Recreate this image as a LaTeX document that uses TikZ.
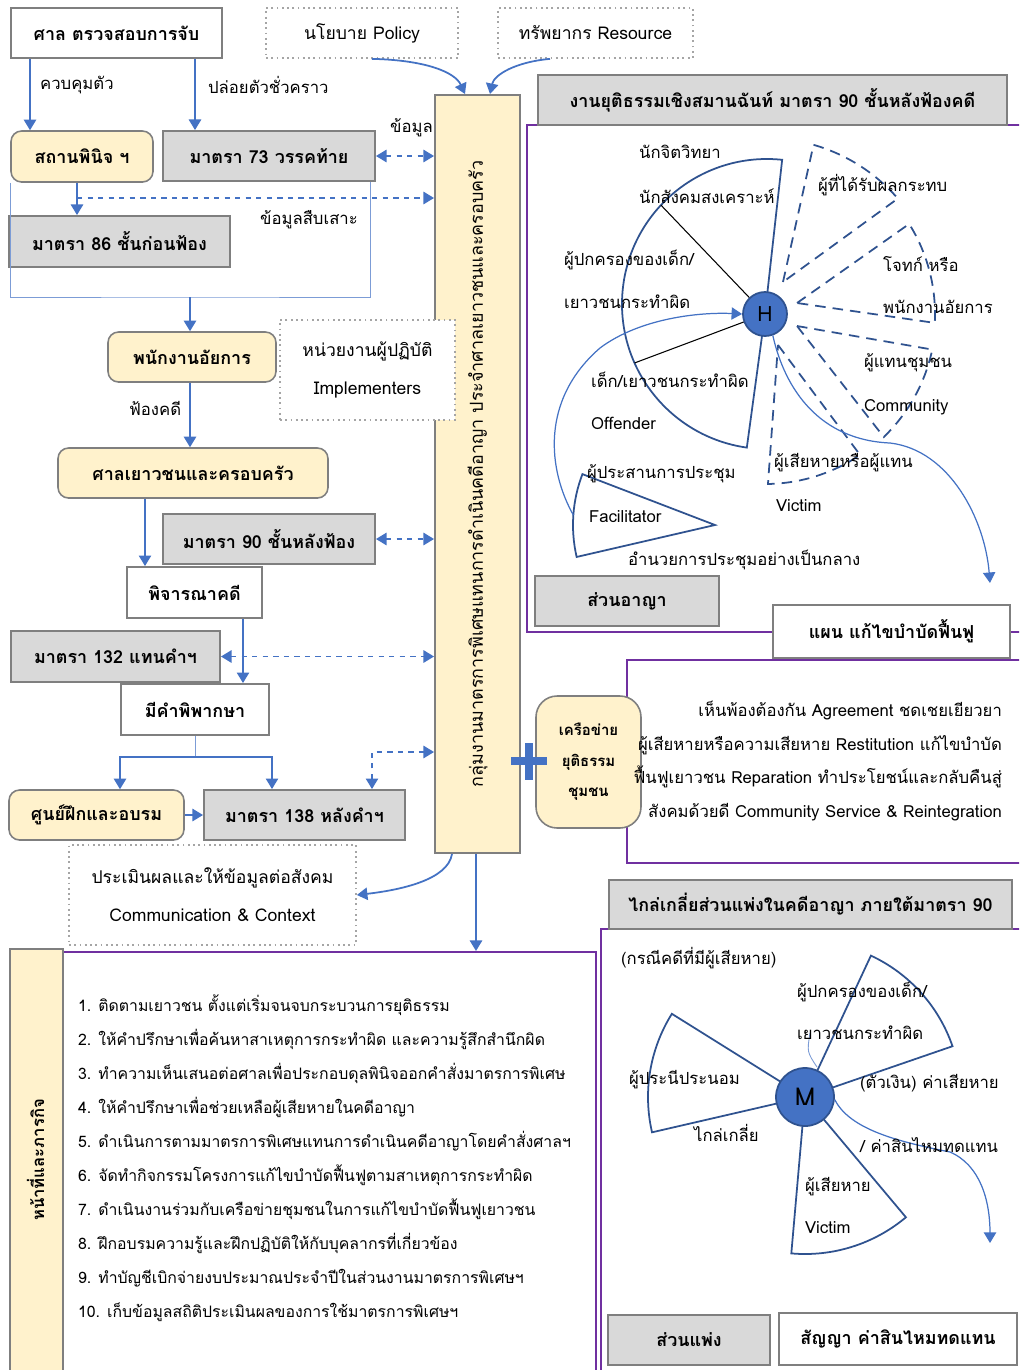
\documentclass[tikz,border=0pt]{standalone}
\usepackage{fontspec}
\setmainfont[Script=Thai]{Loma}
\usetikzlibrary{arrows.meta,calc}
\definecolor{bleu}{HTML}{4472C4}
\definecolor{bleufonce}{HTML}{2F528F}
\definecolor{gris}{HTML}{D9D9D9}
\definecolor{grisbord}{HTML}{7F7F7F}
\definecolor{jaune}{HTML}{FFF2CC}
\definecolor{purp}{HTML}{7030A0}
\definecolor{pointille}{HTML}{A5A5A5}
\tikzset{
  sz/.style 2 args = {minimum width=#1*0.02cm, minimum height=#2*0.02cm},
  txt/.style = {inner sep=1pt, align=center, font=\fontsize{9.5}{12}\selectfont},
  lbl/.style = {txt, anchor=west},% free label
  box_g/.style = {txt, rectangle, draw=grisbord, fill=gris, line width=1.1pt,
    font=\fontsize{10.2}{12}\selectfont\bfseries},% grey section box
  box_w/.style = {box_g, fill=white},% white box
  box_j/.style = {box_g, fill=jaune, rounded corners=6pt, line width=0.9pt},% yellow box
  box_d/.style = {txt, rectangle, draw=pointille, fill=white, dotted, line width=1pt,
    font=\fontsize{10}{21.5}\selectfont},% dotted box
  cadre/.style = {draw=purp, line width=1.1pt},% purple frame
  fl/.style = {-{Triangle[width=7pt,length=6pt]}, bleu, line width=1pt},% arrow
  fl_d/.style = {{Triangle[width=7pt,length=6pt]}-{Triangle[width=7pt,length=6pt]},
    bleu, line width=1pt, dashed},% dashed double arrow
  fil/.style = {bleu!70, line width=0.5pt},
  fan/.style = {draw=bleufonce, line width=1pt},
  fan_d/.style = {fan, dash pattern=on 6pt off 4pt},
  hub/.style = {circle, draw=bleufonce, fill=bleu, line width=1pt, inner sep=0pt,
    font=\fontsize{12}{14}\selectfont}
}
\begin{document}
\begin{tikzpicture}[x=0.02cm, y=0.02cm]
\clip (0,0) rectangle (1019,-1370);
\fill[white] (0,0) rectangle (1019,-1370);

% frames
\draw[cadre] (1030,-125) -- (527,-125) -- (527,-632) -- (1030,-632);
\draw[cadre] (1030,-660) -- (627,-660) -- (627,-863) -- (1030,-863);
\draw[cadre] (1030,-929) -- (601,-929) -- (601,-1380);
\node[cadre, sz={533}{440}, anchor=north west] (duty) at (62,-951) {};
\node[box_g, fill=jaune, sz={53}{440}, anchor=north west] (dutyside) at (9,-948) {};
\node[txt, rotate=90, font=\fontsize{9.5}{12}\selectfont\bfseries] at (35.5,-1160) {หน้าที่และภารกิจ};

% left column
\node[box_w, sz={211}{50}] (arrest) at (116.5,-33) {ศาล ตรวจสอบการจับ};
\node[box_d, sz={192}{50}] (policy) at (362,-33) {นโยบาย Policy};
\node[box_d, sz={195}{50}] (resource) at (595.5,-33) {ทรัพยากร Resource};
\node[box_j, sz={142}{51}] (observ) at (82,-156.5) {สถานพินิจ ฯ};
\node[box_g, sz={212}{50}] (s73) at (269,-156) {มาตรา 73 วรรคท้าย};
\node[box_g, sz={221}{51}] (s86) at (119.5,-241.5) {มาตรา 86 ชั้นก่อนฟ้อง};
\node[box_j, sz={168}{50}] (prosec) at (192,-357) {พนักงานอัยการ};
\node[box_j, sz={270}{50}] (court) at (193,-473) {ศาลเยาวชนและครอบครัว};
\node[box_g, sz={212}{50}] (s90) at (269,-539) {มาตรา 90 ชั้นหลังฟ้อง};
\node[box_w, sz={135}{51}] (trial) at (194.5,-592.5) {พิจารณาคดี};
\node[box_g, sz={209}{51}] (s132) at (115.5,-656.5) {มาตรา 132 แทนคำฯ};
\node[box_w, sz={148}{51}] (verdict) at (195,-709.5) {มีคำพิพากษา};
\node[box_j, sz={175}{50}] (training) at (96.5,-815) {ศูนย์ฝึกและอบรม};
\node[box_g, sz={201}{50}] (s138) at (304.5,-815) {มาตรา 138 หลังคำฯ};
\node[box_d, sz={287}{100}] (comm) at (212.5,-895) {ประเมินผลและให้ข้อมูลต่อสังคม\\Communication \& Context};
\node[box_g, fill=jaune, sz={85}{758}] (unit) at (477.5,-474) {};
\node[txt, rotate=90, font=\fontsize{10.2}{12}\selectfont] at (unit.center) {กลุ่มงานมาตรการพิเศษแทนการดำเนินคดีอาญา ประจำศาลเยาวชนและครอบครัว};
\node[box_d, sz={175}{100}] (impl) at (367.5,-370) {หน่วยงานผู้ปฏิบัติ\\Implementers};

\draw[fl] (arrest.south -| 30,0) -- (observ.north -| 30,0);
\node[lbl] at (38,-85) {ควบคุมตัว};
\draw[fl] (arrest.south -| 195,0) -- (s73.north -| 195,0);
\node[lbl] at (206,-85) {ปล่อยตัวชั่วคราว};
\draw[fl] (policy.south -| 372,0) .. controls (425,-60) and (455,-72) .. (unit.north -| 465,0);
\draw[fl] (resource.south -| 550,0) .. controls (515,-62) and (494,-75) .. (unit.north -| 490,0);
\draw[fl_d] (s73.east) -- (s73.east -| unit.west);
\node[lbl] at (388,-128) {ข้อมูล};
\draw[fl] (observ.south -| 77,0) -- (s86.north -| 77,0);
\coordinate (tap) at (77,-198);
\draw[fl, dashed] (tap) -- (tap -| unit.west);
\node[lbl] at (258,-220) {ข้อมูลสืบเสาะ};
\coordinate (gather) at (190,-297);
\draw[fil] (observ.south west) |- (gather) -| (s73.south -| 370,0);
\draw[fl] (gather) -- (prosec.north -| gather);
\draw[fl] (prosec.south -| 190,0) -- (court.north -| 190,0);
\node[lbl] at (127,-408) {ฟ้องคดี};
\draw[fl] (court.south -| 145,0) -- (trial.north -| 145,0);
\draw[fl_d] (s90.east) -- (s90.east -| unit.west);
\draw[fl] (trial.south -| 243,0) -- (verdict.north -| 243,0);
\draw[fl_d] (s132.east) -- (s132.east -| unit.west);
\draw[fil] (verdict.south) -- ++(0,-21) coordinate (split);
\draw[fl] (split) -| (training.north -| 120,0);
\draw[fl] (split) -| (s138.north -| 272,0);
\draw[fl] (training.east) -- (s138.west);
\draw[fl_d] (s138.north -| 372,0) |- (unit.west |- 0,-752);
\draw[fl] (unit.south -| 452,0) .. controls (448,-880) and (400,-890) .. (comm.east);
\draw[fl] (unit.south -| 476,0) -- (duty.north -| 476,0);

% restorative circle
\node[box_g, sz={469}{50}] (rjhead) at (772.5,-100) {งานยุติธรรมเชิงสมานฉันท์ มาตรา 90 ชั้นหลังฟ้องคดี};
\coordinate (h0) at (765,-314);
\coordinate (hc) at (767,-304);
\draw[fan] (h0) -- ($(hc)+(84:145)$) arc[start angle=84, end angle=262, radius=145] -- cycle;
\draw[black, line width=0.6pt] (h0) -- ($(hc)+(137:145)$);
\draw[black, line width=0.6pt] (h0) -- ($(hc)+(204:145)$);
\draw[fan_d] (783,-282) -- ($(h0)+(74:176)$) arc[start angle=74, end angle=41, radius=176] -- cycle;
\draw[fan_d] (797,-303) -- ($(h0)+(32:170)$) arc[start angle=32, end angle=-3, radius=170] -- cycle;
\draw[fan_d] (797,-326) -- ($(h0)+(-12:171)$) arc[start angle=-12, end angle=-46, radius=171] -- cycle;
\draw[fan_d] (778,-345) -- ($(h0)+(-56:170)$) arc[start angle=-56, end angle=-89, radius=170] -- cycle;
\coordinate (f0) at (715,-525);
\draw[fan] (f0) -- ($(f0)+(159:142)$) arc[start angle=159, end angle=193, radius=142] -- cycle;
\node[hub, minimum size=44*0.02cm] (H) at (h0) {H};
\draw[fl, line width=0.7pt] ($(f0)+(176:142)$) .. controls (548,-470) and (540,-400) .. (600,-348)
  .. controls (640,-318) and (700,-312) .. (H.west);
\coordinate (planin) at (990,-583);
\draw[fl, line width=0.7pt] (H.-70) .. controls (785,-390) and (820,-440) .. (890,-443)
  .. controls (950,-450) and (985,-520) .. (planin);
\node[lbl] at (637,-152) {นักจิตวิทยา};
\node[lbl] at (637,-196) {นักสังคมสงเคราะห์};
\node[lbl] at (562,-260) {ผู้ปกครองของเด็ก/};
\node[lbl] at (562,-302) {เยาวชนกระทำผิด};
\node[lbl] at (589,-380) {เด็ก/เยาวชนกระทำผิด};
\node[lbl] at (589,-423) {Offender};
\node[lbl] at (585,-474) {ผู้ประสานการประชุม};
\node[lbl] at (587,-517) {Facilitator};
\node[lbl] at (626,-560) {อำนวยการประชุมอย่างเป็นกลาง};
\node[lbl] at (816,-185) {ผู้ที่ได้รับผลกระทบ};
\node[lbl] at (881,-264) {โจทก์ หรือ};
\node[lbl] at (881,-307) {พนักงานอัยการ};
\node[lbl] at (862,-363) {ผู้แทนชุมชน};
\node[lbl] at (862,-407) {Community};
\node[lbl] at (772,-463) {ผู้เสียหายหรือผู้แทน};
\node[lbl] at (774,-506) {Victim};
\node[box_g, sz={184}{50}] (crim) at (627,-601) {ส่วนอาญา};
\node[box_w, sz={237}{53}] (plan) at (891.5,-631.5) {แผน แก้ไขบำบัดฟื้นฟู};

% community network
\node[box_j, sz={105}{132}, rounded corners=12pt, font=\fontsize{8.5}{17.3}\selectfont\bfseries] (network) at (588.5,-762) {เครือข่าย\\ยุติธรรม\\ชุมชน};
\draw[bleu, line width=4pt] (511,-761) -- (547,-761) (529,-743) -- (529,-780);
\node[txt, anchor=east, align=right, font=\fontsize{9.5}{19.3}\selectfont] (agree) at (1004,-761)
  {เห็นพ้องต้องกัน Agreement ชดเชยเยียวยา\\ผู้เสียหายหรือความเสียหาย Restitution แก้ไขบำบัด\\ฟื้นฟูเยาวชน Reparation ทำประโยชน์และกลับคืนสู่\\สังคมด้วยดี Community Service \& Reintegration};

% mediation
\node[box_g, sz={403}{49}] (medhead) at (810.5,-904.5) {ไกล่เกลี่ยส่วนแพ่งในคดีอาญา ภายใต้มาตรา 90};
\coordinate (m0) at (805,-1097);
\draw[fan] (m0) -- ($(m0)+(65:156)$) arc[start angle=65, end angle=19, radius=156] -- cycle;
\draw[fan] (m0) -- ($(m0)+(148:157)$) arc[start angle=148, end angle=193, radius=157] -- cycle;
\draw[fan] (m0) -- ($(m0)+(265:157)$) arc[start angle=265, end angle=310, radius=157] -- cycle;
\node[hub, minimum size=58*0.02cm, font=\fontsize{14}{16}\selectfont] (M) at (m0) {M};
\draw[fil] (810,-1033) .. controls (807,-1052) .. (817,-1067);
\coordinate (civin) at (990,-1243);
\draw[fl, line width=0.7pt] (M.-5) .. controls (850,-1130) and (900,-1142) .. (950,-1152)
  .. controls (980,-1165) and (990,-1200) .. (civin);
\node[lbl] at (619,-958) {(กรณีคดีที่มีผู้เสียหาย)};
\node[lbl] at (795,-992) {ผู้ปกครองของเด็ก/};
\node[lbl] at (795,-1033) {เยาวชนกระทำผิด};
\node[lbl] at (627,-1080) {ผู้ประนีประนอม};
\node[lbl] at (692,-1133) {ไกล่เกลี่ย};
\node[lbl] at (858,-1083) {(ตัวเงิน) ค่าเสียหาย};
\node[lbl] at (858,-1145) {/ ค่าสินไหมทดแทน};
\node[lbl] at (803,-1187) {ผู้เสียหาย};
\node[lbl] at (803,-1228) {Victim};
\node[box_g, sz={162}{50}] (civil) at (689,-1340) {ส่วนแพ่ง};
\node[box_w, sz={238}{52}] (contract) at (898,-1339) {สัญญา ค่าสินไหมทดแทน};

% duties
\node[txt, anchor=north west, align=left, font=\fontsize{9}{19.3}\selectfont] (tasks) at (76,-993)
  {1. ติดตามเยาวชน ตั้งแต่เริ่มจนจบกระบวนการยุติธรรม\\
   2. ให้คำปรึกษาเพื่อค้นหาสาเหตุการกระทำผิด และความรู้สึกสำนึกผิด\\
   3. ทำความเห็นเสนอต่อศาลเพื่อประกอบดุลพินิจออกคำสั่งมาตรการพิเศษ\\
   4. ให้คำปรึกษาเพื่อช่วยเหลือผู้เสียหายในคดีอาญา\\
   5. ดำเนินการตามมาตรการพิเศษแทนการดำเนินคดีอาญาโดยคำสั่งศาลฯ\\
   6. จัดทำกิจกรรมโครงการแก้ไขบำบัดฟื้นฟูตามสาเหตุการกระทำผิด\\
   7. ดำเนินงานร่วมกับเครือข่ายชุมชนในการแก้ไขบำบัดฟื้นฟูเยาวชน\\
   8. ฝึกอบรมความรู้และฝึกปฏิบัติให้กับบุคลากรที่เกี่ยวข้อง\\
   9. ทำบัญชีเบิกจ่ายงบประมาณประจำปีในส่วนงานมาตรการพิเศษฯ\\
   10. เก็บข้อมูลสถิติประเมินผลของการใช้มาตรการพิเศษฯ};
\end{tikzpicture}
\end{document}
